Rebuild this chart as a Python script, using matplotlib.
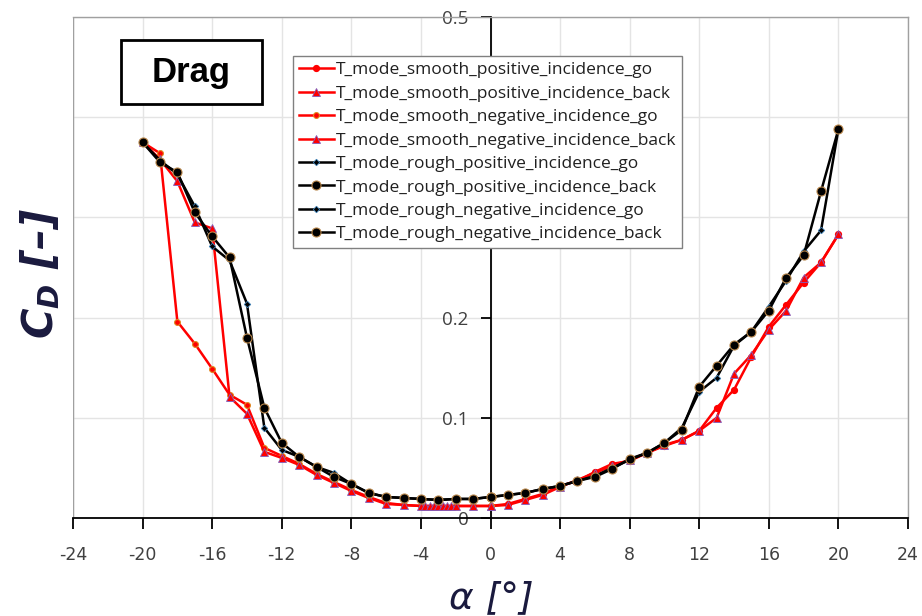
import matplotlib
matplotlib.use("Agg")
import matplotlib.pyplot as plt
from matplotlib import font_manager
from matplotlib.patches import Rectangle
from matplotlib.lines import Line2D

names = {f.name for f in font_manager.fontManager.ttflist}
narrow = "Liberation Sans Narrow" if "Liberation Sans Narrow" in names else "DejaVu Sans"
main_font = "Open Sans" if "Open Sans" in names else "DejaVu Sans"
plt.rcParams['font.family'] = [main_font, 'DejaVu Sans']
plt.rcParams['mathtext.fontset'] = 'custom'
plt.rcParams['mathtext.it'] = 'DejaVu Sans:italic:bold'
plt.rcParams['mathtext.rm'] = 'DejaVu Sans:bold'

# ---------------- data ----------------
pos_go_x = list(range(0, 21))
pos_back_x = list(range(20, -1, -1))
neg_go_x = list(range(0, -21, -1))
neg_back_x = [-20, -19, -18, -17, -16, -15, -14, -13, -12, -11, -10, -9, -8, -7, -6, -5, -4,
              -3.75, -3.5, -3.25, -3.0, -2.75, -2.5, -2.25, -2.0, -1, 0]

smooth_pos_go = [0.012, 0.014, 0.019, 0.024, 0.032, 0.037, 0.046, 0.054, 0.057, 0.065, 0.072,
                 0.078, 0.087, 0.110, 0.128, 0.161, 0.191, 0.213, 0.235, 0.255, 0.283]
smooth_pos_back = [0.283, 0.255, 0.240, 0.207, 0.188, 0.163, 0.144, 0.100, 0.087, 0.078, 0.073,
                   0.065, 0.058, 0.052, 0.045, 0.038, 0.031, 0.023, 0.018, 0.013, 0.012]
smooth_neg_go = [0.012, 0.012, 0.012, 0.012, 0.012, 0.013, 0.015, 0.021, 0.028, 0.036, 0.044,
                 0.054, 0.062, 0.070, 0.113, 0.123, 0.149, 0.174, 0.196, 0.364, 0.375]
smooth_neg_back = [0.375, 0.358, 0.336, 0.295, 0.289, 0.121, 0.104, 0.066, 0.060, 0.053, 0.043,
                   0.035, 0.027, 0.020, 0.014, 0.013, 0.012,
                   0.012, 0.012, 0.012, 0.012, 0.012, 0.012, 0.012, 0.012, 0.012, 0.012]
rough_pos_go = [0.021, 0.023, 0.025, 0.029, 0.032, 0.037, 0.042, 0.050, 0.058, 0.065, 0.075,
                0.090, 0.126, 0.140, 0.172, 0.186, 0.211, 0.237, 0.266, 0.287, 0.388]
rough_pos_back = [0.388, 0.326, 0.262, 0.240, 0.207, 0.186, 0.173, 0.152, 0.131, 0.088, 0.075,
                  0.065, 0.059, 0.049, 0.041, 0.037, 0.032, 0.029, 0.025, 0.023, 0.021]
rough_neg_go = [0.021, 0.019, 0.019, 0.018, 0.019, 0.020, 0.021, 0.025, 0.034, 0.045, 0.051,
                0.061, 0.068, 0.090, 0.214, 0.257, 0.271, 0.311, 0.343, 0.357, 0.375]
rough_neg_back_x = list(range(-20, 1))
rough_neg_back = [0.375, 0.355, 0.345, 0.305, 0.281, 0.260, 0.180, 0.110, 0.075, 0.061, 0.051,
                  0.041, 0.034, 0.025, 0.021, 0.020, 0.019, 0.018, 0.019, 0.019, 0.021]

labels = ["T_mode_smooth_positive_incidence_go",
          "T_mode_smooth_positive_incidence_back",
          "T_mode_smooth_negative_incidence_go",
          "T_mode_smooth_negative_incidence_back",
          "T_mode_rough_positive_incidence_go",
          "T_mode_rough_positive_incidence_back",
          "T_mode_rough_negative_incidence_go",
          "T_mode_rough_negative_incidence_back"]

x_ticks = list(range(-24, 25, 4))
y_ticks = [0, 0.1, 0.2, 0.3, 0.4, 0.5]
y_ticklabels = ["0", "0.1", "0.2", "0.3", "0.4", "0.5"]

# ---------------- plot ----------------
fig = plt.figure(figsize=(9.22, 6.16), dpi=100)
ax = fig.add_axes([73/922, (616-518)/616, 835/922, 501/616])

# spine placement first (it resets tick label properties)
ax.spines['left'].set_position(('data', 0))
ax.spines['left'].set_color('black')
ax.spines['left'].set_linewidth(1.3)
ax.spines['bottom'].set_color('black')
ax.spines['bottom'].set_linewidth(1.3)
for s in ('top', 'right'):
    ax.spines[s].set_color('#a0a0a0')
    ax.spines[s].set_linewidth(1.0)
ax.add_line(Line2D([0, 0], [0, 1], transform=ax.transAxes, color='#a0a0a0', lw=1.0, zorder=1))

RED = "#ff0000"
series = [
    (pos_go_x, smooth_pos_go, dict(color=RED, marker='o', ms=4.2, mfc=RED, mec=RED)),
    (pos_back_x, smooth_pos_back, dict(color=RED, marker='^', ms=5.5, mfc=RED, mec='#7f5fbf', mew=0.6)),
    (neg_go_x, smooth_neg_go, dict(color=RED, marker='o', ms=4.2, mfc=RED, mec='#e08a20', mew=0.8)),
    (neg_back_x, smooth_neg_back, dict(color=RED, marker='^', ms=5.5, mfc=RED, mec='#7f5fbf', mew=0.6)),
    (pos_go_x, rough_pos_go, dict(color='black', marker='D', ms=3.3, mfc='black', mec='#3c7fb5', mew=0.6)),
    (pos_back_x, rough_pos_back, dict(color='black', marker='o', ms=6.5, mfc='black', mec='#b8864a', mew=0.8)),
    (neg_go_x, rough_neg_go, dict(color='black', marker='D', ms=3.3, mfc='black', mec='#3c7fb5', mew=0.6)),
    (rough_neg_back_x, rough_neg_back, dict(color='black', marker='o', ms=6.5, mfc='black', mec='#b8864a', mew=0.8)),
]
for (xs, ys, st), lab in zip(series, labels):
    ax.plot(xs, ys, lw=1.8, label=lab, zorder=3, clip_on=False, **st)

ax.set_xlim(-24, 24)
ax.set_ylim(0, 0.5)
ax.set_xticks(x_ticks)
ax.set_xticklabels([str(v) for v in x_ticks], fontfamily=narrow, fontsize=12.5, color='#404040')
ax.set_yticks(y_ticks)
ax.set_yticklabels(y_ticklabels, fontsize=13.5, color='#404040')
ax.grid(True, color='#e4e4e4', lw=1, zorder=0)
ax.set_axisbelow(True)

ax.tick_params(axis='x', direction='out', length=8, width=1.3, pad=12, color='black')
ax.tick_params(axis='y', direction='out', length=7, width=1.3, pad=9, color='black')

leg = ax.legend(loc='upper left', bbox_to_anchor=(0.2635, 0.922), borderaxespad=0,
                fontsize=12.5, fancybox=False, framealpha=1, edgecolor='#808080',
                handlelength=2.0, handletextpad=0.1, labelspacing=0.42,
                borderpad=0.35, markerscale=1.0)
leg.get_frame().set_linewidth(1.0)
leg.set_zorder(10)
for t in leg.get_texts():
    t.set_color('#202020')

# Drag box
ax.add_patch(Rectangle((0.0575, 0.826), 0.1689, 0.1277, transform=ax.transAxes,
                       facecolor='white', edgecolor='black', lw=2, zorder=6))
ax.text(0.0575 + 0.1689/2, 0.826 + 0.1277/2, "Drag", transform=ax.transAxes,
        ha='center', va='center', fontsize=25, fontweight='bold',
        fontfamily='Liberation Sans', zorder=7)

NAVY = '#1a1a3e'
fig.text(40/922, (616-274)/616, r"$C_D$ [–]", rotation=90, ha='center', va='center',
         fontsize=30, fontstyle='italic', fontweight='bold', color=NAVY,
         fontfamily='DejaVu Sans')
fig.text(491/922, (616-598)/616, "α [°]", ha='center', va='center',
         fontsize=27, fontstyle='italic', color=NAVY, fontfamily='DejaVu Sans')

fig.savefig("out.png", dpi=100)
